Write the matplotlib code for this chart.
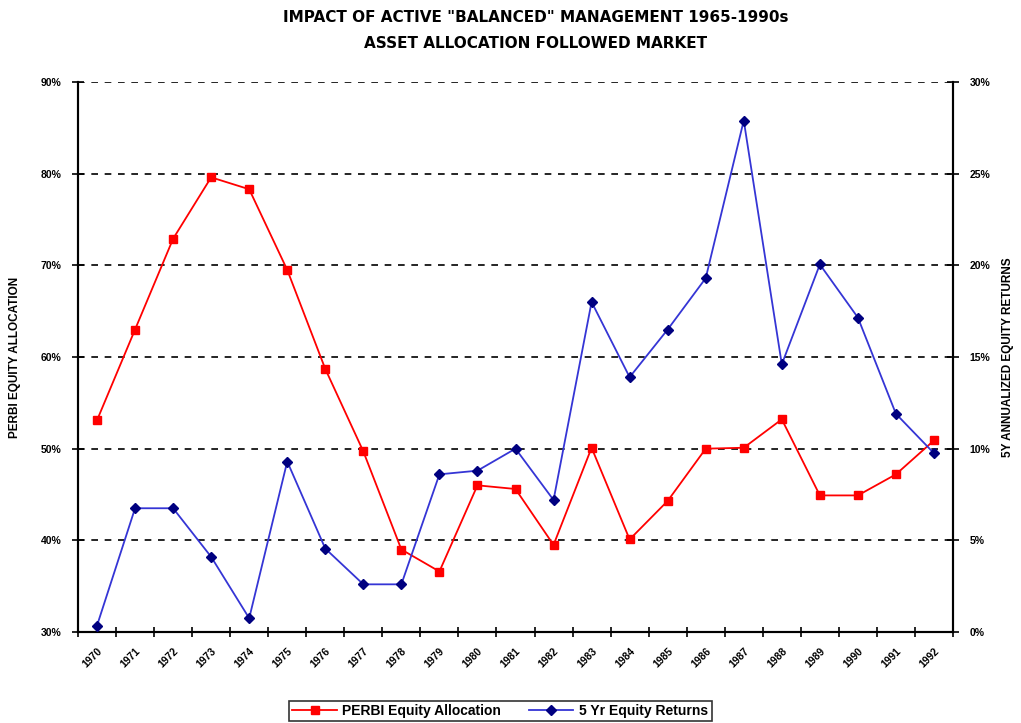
import matplotlib
matplotlib.use("Agg")
import matplotlib.pyplot as plt
from matplotlib.lines import Line2D

years = [str(y) for y in range(1970, 1993)]
equity_alloc = [53.1, 63.0, 72.9, 79.6, 78.3, 69.5, 58.7, 49.7, 39.0, 36.6,
                46.0, 45.6, 39.5, 50.1, 40.1, 44.3, 50.0, 50.1, 53.2, 44.9,
                44.9, 47.2, 50.9]
returns_5y = [0.35, 6.75, 6.75, 4.1, 0.75, 9.3, 4.55, 2.6, 2.6, 8.6,
              8.8, 10.0, 7.2, 18.0, 13.9, 16.5, 19.3, 27.9, 14.6, 20.05,
              17.15, 11.9, 9.75]
left_ticks = [30, 40, 50, 60, 70, 80, 90]
right_ticks = [0, 5, 10, 15, 20, 25, 30]

plt.rcParams['font.family'] = ['Liberation Sans', 'DejaVu Sans']

fig = plt.figure(figsize=(10.21, 7.23), dpi=100)
ax = fig.add_axes([78/1021, 1-632/723, (953-78)/1021, (632-82)/723])
ax2 = ax.twinx()

n = len(years)
x = list(range(n))
ax.plot(x, equity_alloc, color='#FF0000', lw=1.3, marker='s', ms=6,
        mfc='#FF0000', mec='#FF0000', zorder=3)
ax2.plot(x, returns_5y, color='#3535D5', lw=1.3, marker='D', ms=5.5,
         mfc='#000080', mec='#000080', zorder=3)

ax.set_xlim(-0.5, n - 0.5)
ax.set_ylim(30, 90)
ax2.set_ylim(0, 30)
ax.set_yticks(left_ticks)
ax.set_yticklabels([f"{v}%" for v in left_ticks])
ax2.set_yticks(right_ticks)
ax2.set_yticklabels([f"{v}%" for v in right_ticks])

ax.set_xticks([i - 0.5 for i in range(n + 1)])
ax.set_xticklabels([])
ax.set_xticks(x, minor=True)
ax.set_xticklabels(years, minor=True, rotation=45, ha='right', va='top',
                   rotation_mode='anchor', fontsize=7.5, fontweight='bold')
ax.tick_params(axis='x', which='minor', length=0, pad=10)
ax.tick_params(axis='x', which='major', direction='inout', length=7, width=1.2)

for v in left_ticks[1:]:
    ax.axhline(v, color='black', ls=(0, (4, 4)), lw=1.2, zorder=1)

ax.tick_params(axis='y', direction='inout', length=8, width=1.2, labelsize=7.5, pad=8)
ax2.tick_params(axis='y', direction='inout', length=8, width=1.2, labelsize=7.5, pad=8)
for lab in ax.get_yticklabels() + ax2.get_yticklabels():
    lab.set_fontweight('bold')

for a in (ax, ax2):
    a.spines['top'].set_visible(False)
    for s in ('left', 'right', 'bottom'):
        a.spines[s].set_linewidth(1.5)

ax.set_ylabel("PERBI EQUITY ALLOCATION", fontsize=8.5, fontweight='bold', labelpad=14)
ax2.set_ylabel("5Y ANNUALIZED EQUITY RETURNS", fontsize=8.5, fontweight='bold',
               rotation=90, labelpad=8)

title_kw = dict(ha='center', va='center', fontsize=11, fontweight='bold',
                family=['DejaVu Sans'])
fig.text(0.525, 1 - 17/723, 'IMPACT OF ACTIVE "BALANCED" MANAGEMENT 1965-1990s', **title_kw)
fig.text(0.525, 1 - 43/723, 'ASSET ALLOCATION FOLLOWED MARKET', **title_kw)

handles = [Line2D([], [], color='#FF0000', lw=1.3, marker='s', ms=6,
                  mfc='#FF0000', mec='#FF0000'),
           Line2D([], [], color='#3535D5', lw=1.3, marker='D', ms=5.5,
                  mfc='#000080', mec='#000080')]
leg = fig.legend(handles, ["PERBI Equity Allocation", "5 Yr Equity Returns"],
                 loc='center', bbox_to_anchor=(0.49, 1 - 711/723), ncol=2,
                 frameon=True, fancybox=False, edgecolor='black',
                 fontsize=10, handlelength=3.2, columnspacing=2.0,
                 borderpad=0.25, handletextpad=0.4)
leg.get_frame().set_linewidth(1.2)
for t in leg.get_texts():
    t.set_fontweight('bold')

fig.savefig("out.png", dpi=100)
